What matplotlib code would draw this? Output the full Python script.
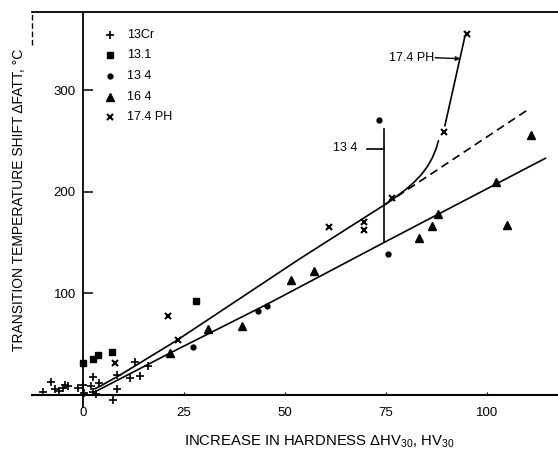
import matplotlib
matplotlib.use("Agg")
import matplotlib.pyplot as plt

plt.rcParams['font.family'] = ['Liberation Sans', 'DejaVu Sans']
plt.rcParams['mathtext.fontset'] = 'custom'
plt.rcParams['mathtext.rm'] = 'Liberation Sans'
plt.rcParams['mathtext.it'] = 'Liberation Sans'

# ---- data ----
cr13_x = [-9.8, -8.0, -6.9, -5.9, -4.9, -4.5, -3.8, -1.2, 0.1, 0.3, 2.1, 2.6, 2.5, 4.0, 3.2, 8.5, 7.5, 8.5, 11.6, 12.9, 14.1, 16.2]
cr13_y = [2.3, 12.5, 5.6, 4.2, 6.6, 9.5, 9.0, 6.6, 9.8, 1.5, 8.8, 17.4, 2.7, 11.5, 1.0, 5.6, -4.9, 19.7, 17.0, 32.8, 18.7, 28.5]

s131_x = [0.1, 2.4, 3.8, 7.3, 28.1]
s131_y = [31.7, 35.5, 39.0, 42.3, 92.5]

s134_x = [27.3, 43.4, 45.6, 73.4, 75.6]
s134_y = [47.5, 83.0, 87.5, 271.0, 138.6]

s164_x = [21.5, 31.0, 39.5, 51.4, 57.3, 83.2, 86.5, 88.0, 102.2, 104.9, 110.8]
s164_y = [41.0, 65.0, 68.0, 113.0, 122.0, 154.0, 166.0, 178.5, 209.7, 167.0, 255.6]

ph_x = [7.9, 21.1, 23.6, 61.0, 69.6, 69.6, 76.4, 89.4, 95.1]
ph_y = [31.7, 77.7, 54.0, 165.5, 170.6, 162.0, 194.0, 259.0, 355.5]

# hand-drawn trend lines
upper_x = [3.0, 4.5, 6.5, 9.0, 23.0, 53.7, 75.0]
upper_y = [6.0, 9.0, 13.5, 19.0, 53.0, 134.0, 188.0]
lower_x = [3.0, 21.5, 45.0, 75.0, 114.5]
lower_y = [3.0, 41.0, 88.0, 151.0, 233.0]
dash_x = [75.0, 110.6]
dash_y = [188.0, 282.0]
phcurve_x = [75.0, 77.5, 80.0, 82.0, 83.8, 85.3, 86.5, 87.4, 88.0]
phcurve_y = [188.0, 195.0, 202.5, 209.5, 217.0, 225.0, 233.5, 242.0, 250.0]
phtop_x = [89.6, 94.5]
phtop_y = [265.0, 352.0]

legend_labels = ["13Cr", "13.1", "13 4", "16 4", "17.4 PH"]
xticks = [0, 25, 50, 75, 100]
yticks = [100, 200, 300]

fig = plt.figure(figsize=(5.58, 4.54), dpi=100)
ax = fig.add_axes([0.0573, 0.1035, 0.9427, 0.870])
ax.set_xlim(-12.6, 117.6)
ax.set_ylim(-12, 377)

k = 'black'
lw = 1.2
ax.plot(upper_x, upper_y, color=k, lw=lw)
ax.plot(lower_x, lower_y, color=k, lw=lw)
ax.plot(dash_x, dash_y, color=k, lw=lw, linestyle=(0, (5, 3)))
ax.plot(phcurve_x, phcurve_y, color=k, lw=lw)
ax.plot(phtop_x, phtop_y, color=k, lw=lw)

ms = dict(linestyle='none', color=k, zorder=5)
ax.plot(cr13_x, cr13_y, marker='+', markersize=6, mew=1.2, **ms)
ax.plot(s131_x, s131_y, marker='s', markersize=5, **ms)
ax.plot(s134_x, s134_y, marker='o', markersize=3.5, **ms)
ax.plot(s164_x, s164_y, marker='^', markersize=6, **ms)
ax.plot(ph_x, ph_y, marker='x', markersize=4, mew=1.5, **ms)

# annotations
ax.plot([74.6, 74.6], [262, 151], color=k, lw=lw)
ax.plot([70.3, 74.6], [242, 242], color=k, lw=lw)
ax.text(62.0, 243, "13 4", fontsize=9, ha='left', va='center')
ax.text(75.8, 332, "17.4 PH", fontsize=9, ha='left', va='center')
ax.annotate("", xy=(93.4, 331), xytext=(87.2, 332),
            arrowprops=dict(arrowstyle='-|>', lw=1.0, color=k, mutation_scale=6,
                            shrinkA=0, shrinkB=0))

# legend (manual)
leg_markers = [dict(marker='+', markersize=6, mew=1.2), dict(marker='s', markersize=5),
               dict(marker='o', markersize=3.5), dict(marker='^', markersize=6),
               dict(marker='x', markersize=4, mew=1.5)]
for i, (lab, mk) in enumerate(zip(legend_labels, leg_markers)):
    yy = 0.942 - i * 0.052
    ax.plot([0.148], [yy], transform=ax.transAxes, color=k, linestyle='none', **mk)
    ax.text(0.181, yy, lab, transform=ax.transAxes, fontsize=9, ha='left', va='center')

# spines
ax.spines['right'].set_visible(False)
ax.spines['bottom'].set_position(('data', 0))
ax.spines['left'].set_position(('data', 0))
ax.spines['bottom'].set_linewidth(1.5)
ax.spines['left'].set_linewidth(1.3)
ax.spines['top'].set_linewidth(1.3)
ax.plot([-12.6, -12.6], [345, 377], color=k, lw=1.0, linestyle=(0, (4, 2)), clip_on=False)

ax.set_xticks(xticks)
ax.set_yticks(yticks)
ax.tick_params(axis='y', direction='in', length=7, width=1.1, pad=5, labelsize=9.5)
ax.tick_params(axis='x', direction='in', length=2, width=0.8, pad=9, labelsize=9.5)

fig.text(0.034, 1 - 200 / 454, "TRANSITION TEMPERATURE SHIFT ΔFATT, °C", rotation=90,
         ha='center', va='center', fontsize=10)
fig.text(319 / 558, 1 - 442 / 454, "INCREASE IN HARDNESS ΔHV$_{30}$, HV$_{30}$",
         ha='center', va='center', fontsize=10.7)

fig.savefig("out.png", dpi=100)
